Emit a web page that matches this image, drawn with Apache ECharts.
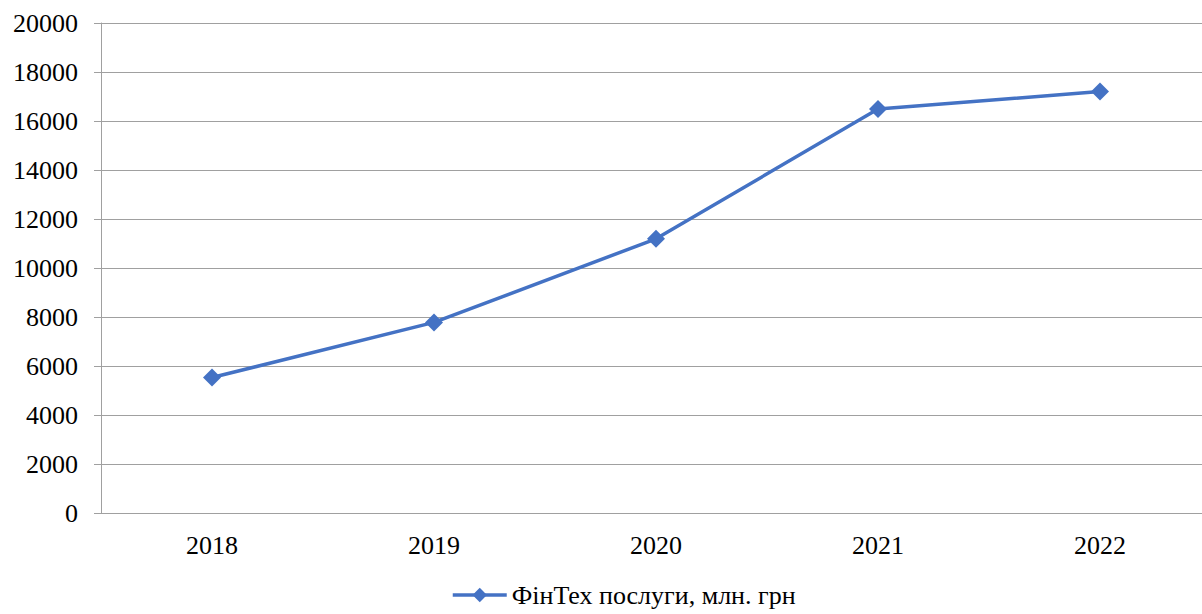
<!DOCTYPE html>
<html>
<head>
<meta charset="utf-8">
<style>
  html, body { margin: 0; padding: 0; background: #fff; overflow: hidden; }
  #chart { width: 1211px; height: 614px; }
</style>
<script src="https://cdn.jsdelivr.net/npm/echarts@6/dist/echarts.min.js"></script>
</head>
<body>
<div id="chart"></div>
<script>
(function () {
  var years = ['2018', '2019', '2020', '2021', '2022'];
  var fintech = [5530, 7780, 11190, 16490, 17200];
  var seriesName = 'ФінТех послуги, млн. грн';

  var blue = '#4472C4';
  var grid = '#a0a0a0';
  var font = '"Liberation Serif", "Times New Roman", serif';

  var chart = echarts.init(document.getElementById('chart'), null, { renderer: 'svg' });
  chart.setOption({
    animation: false,
    textStyle: { fontFamily: font },
    grid: { left: 101, top: 23, right: 0, bottom: 101, containLabel: false },
    legend: {
      bottom: 1,
      left: 446,
      itemWidth: 54,
      itemHeight: 18,
      itemGap: 5,
      lineStyle: { width: 3.5 },
      textStyle: { fontFamily: font, fontSize: 26, color: '#000' },
      data: [seriesName]
    },
    xAxis: {
      type: 'category',
      data: years,
      boundaryGap: true,
      axisLine: { lineStyle: { color: grid, width: 1 } },
      axisTick: { length: 7, lineStyle: { color: grid } },
      axisLabel: { margin: 19, fontSize: 26, color: '#000', fontFamily: font }
    },
    yAxis: {
      type: 'value',
      min: 0,
      max: 20000,
      interval: 2000,
      axisLine: { show: true, lineStyle: { color: grid, width: 1 } },
      axisTick: { show: true, length: 7, lineStyle: { color: grid } },
      splitLine: { lineStyle: { color: grid, width: 1 } },
      axisLabel: {
        margin: 23, fontSize: 26, color: '#000', fontFamily: font,
        formatter: function (v) { return String(v); }
      }
    },
    series: [{
      name: seriesName,
      type: 'line',
      data: fintech,
      color: blue,
      symbol: 'diamond',
      symbolSize: 18,
      lineStyle: { color: blue, width: 3.5 },
      itemStyle: { color: blue }
    }]
  });
})();
</script>
</body>
</html>
